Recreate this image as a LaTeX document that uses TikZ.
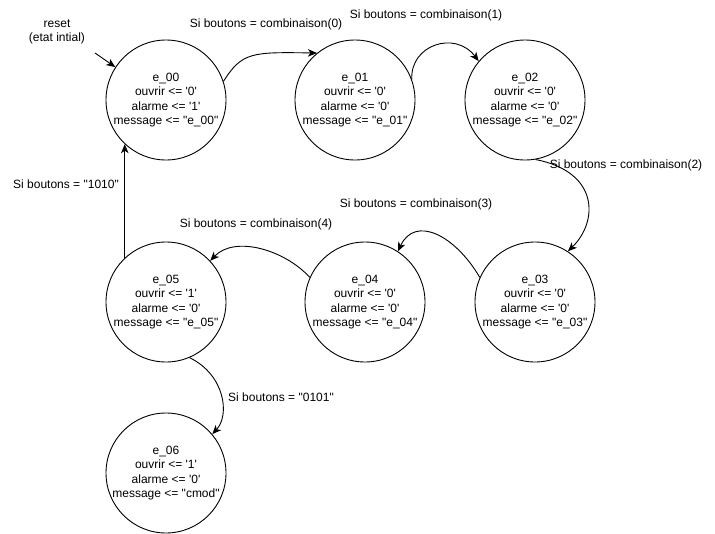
\documentclass[tikz,border=0pt]{standalone}
\usepackage{fontspec}
\setmainfont{Liberation Sans}
\usetikzlibrary{arrows.meta}
\newcommand{\tq}{\textquotesingle}
\newcommand{\dq}{\textquotedbl}

\begin{document}
\begin{tikzpicture}[x=1pt,y=-1pt]

\tikzstyle{state}=[draw,circle,line width=0.9pt,minimum size=120pt,inner sep=0pt,align=center,font=\fontsize{12}{14.5}\selectfont]
\tikzstyle{trans}=[line width=0.9pt,-{Stealth[length=9pt,width=7.5pt,inset=2.5pt]}]
\tikzstyle{lbl}=[inner sep=0pt,align=center,font=\fontsize{12}{14.5}\selectfont]

\useasboundingbox (0,0) rectangle (715,533);

% states
\node (e00) [state] at (166,100) {e\_00\\ouvrir <= \tq0\tq\\alarme <= \tq1\tq\\message <= \dq e\_00\dq};
\node (e01) [state] at (355,100) {e\_01\\ouvrir <= \tq0\tq\\alarme <= \tq0\tq\\message <= \dq e\_01\dq};
\node (e02) [state] at (525,100) {e\_02\\ouvrir <= \tq0\tq\\alarme <= \tq0\tq\\message <= \dq e\_02\dq};
\node (e03) [state] at (535,302) {e\_03\\ouvrir <= \tq0\tq\\alarme <= \tq0\tq\\message <= \dq e\_03\dq};
\node (e04) [state] at (365,302) {e\_04\\ouvrir <= \tq0\tq\\alarme <= \tq0\tq\\message <= \dq e\_04\dq};
\node (e05) [state] at (166,302) {e\_05\\ouvrir <= \tq1\tq\\alarme <= \tq0\tq\\message <= \dq e\_05\dq};
\node (e06) [state] at (166,473) {e\_06\\ouvrir <= \tq1\tq\\alarme <= \tq0\tq\\message <= \dq cmod\dq};

% initial state
\node (reset) [lbl] at (57,32) {reset\\(etat intial)};
\coordinate (reset_end) at (95,53);
\draw [trans] (reset_end) -- (e00.147);

% transitions
\draw [trans] (e00.18) .. controls (242,52) and (252,52) .. (e01.129);
\draw [trans] (e01.20) .. controls (410,45) and (455,30) .. (e02.140);
\draw [trans] (e02.-80) .. controls (600,172) and (598,222) .. (e03.57);
\draw [trans] (e03.156) .. controls (455,235) and (415,215) .. (e04.57);
\draw [trans] (e04.156) .. controls (285,250) and (235,235) .. (e05.43);
\draw [trans] (e05.133) -- (e00.-133);
\draw [trans] (e05.-67) .. controls (225,375) and (230,415) .. (e06.40);

% conditions
\node (c_0) [lbl] at (266,24) {Si boutons = combinaison(0)};
\node (c_1) [lbl] at (426,15) {Si boutons = combinaison(1)};
\node (c_2) [lbl] at (626,165) {Si boutons = combinaison(2)};
\node (c_3) [lbl] at (416,204) {Si boutons = combinaison(3)};
\node (c_4) [lbl] at (256,224) {Si boutons = combinaison(4)};
\node (c_1010) [lbl] at (66,184) {Si boutons = \dq 1010\dq};
\node (c_0101) [lbl] at (281,397) {Si boutons = \dq 0101\dq};

\end{tikzpicture}
\end{document}
